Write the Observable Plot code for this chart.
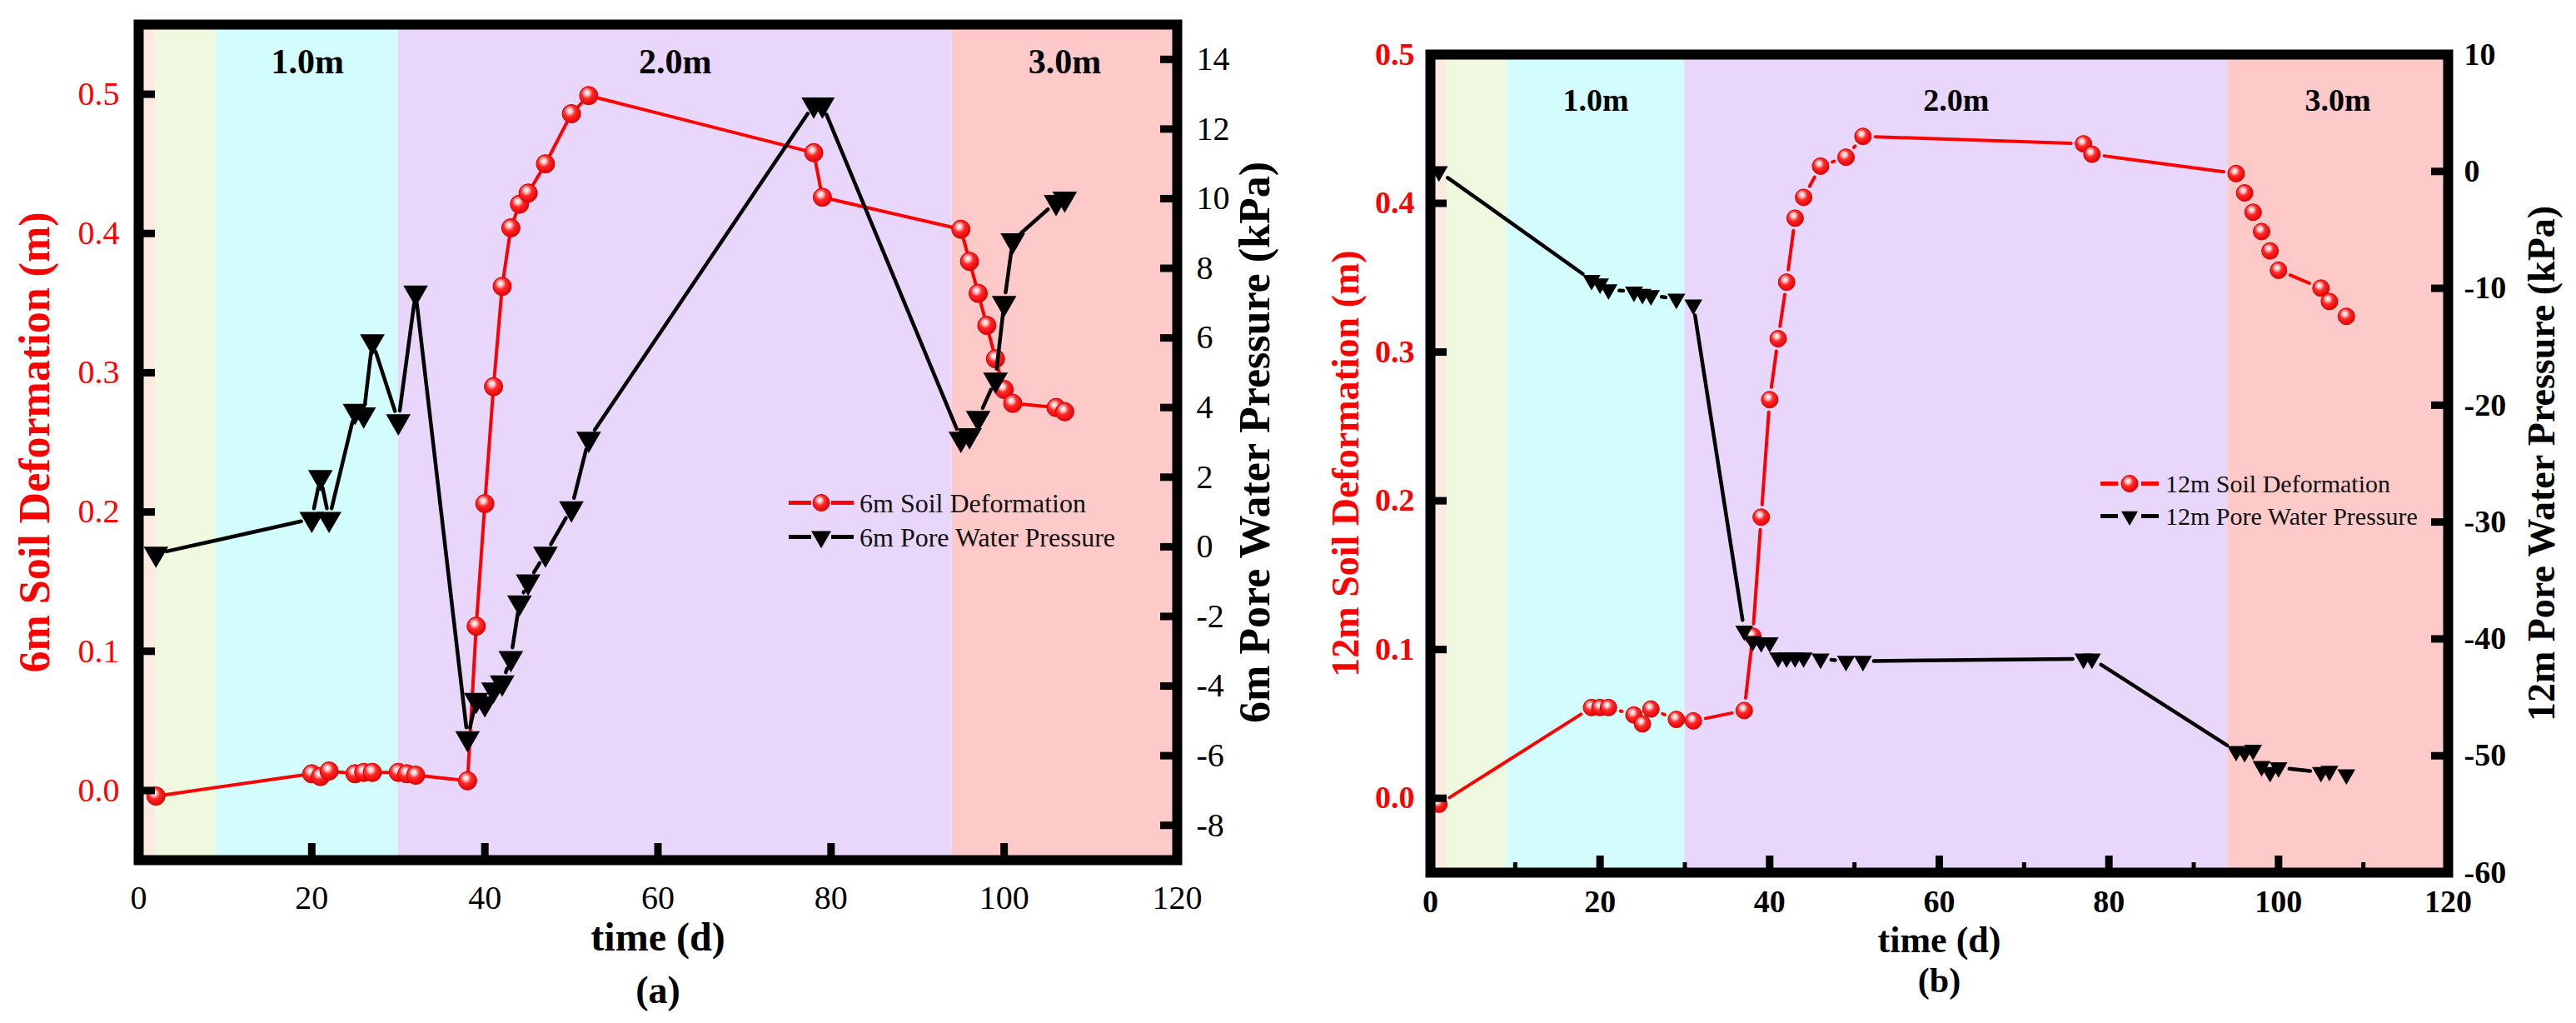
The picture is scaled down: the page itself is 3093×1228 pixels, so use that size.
<!DOCTYPE html>
<html><head><meta charset="utf-8">
<script src="https://cdn.jsdelivr.net/npm/d3@7"></script>
<script src="https://cdn.jsdelivr.net/npm/@observablehq/plot@0.6"></script>
<style>
body{margin:0;background:#fff;}
#wrap{position:relative;width:3093px;height:1228px;overflow:hidden;background:#fff;}
.panel{position:absolute;top:0;}
.layer{position:absolute;left:0;top:0;}
.legend{position:absolute;font-family:"Liberation Serif",serif;color:#111;white-space:nowrap;line-height:1;}
.legend .row{display:flex;align-items:center;}
.legend span{line-height:1;}
.legend svg{display:block;}
</style>
</head><body><div id="wrap"></div>
<script>
// ---------- data ----------
const xTicks = [0, 20, 40, 60, 80, 100, 120];
const xMinorTicks = [10, 30, 50, 70, 90, 110];
const bandStart = [0, 2, 9, 30, 94];
const bandEnd = [2, 9, 30, 94, 120];
const bandLabels = ["", "", "1.0m", "2.0m", "3.0m"];

// (a) 6 m
const def6Days = [2, 20, 21, 22, 25, 26, 27, 30, 31, 32, 38, 39, 40, 41, 42, 43, 44, 45, 47, 50, 52, 78, 79, 95, 96, 97, 98, 99, 100, 101, 106, 107];
const def6Vals = [-0.004, 0.012, 0.010, 0.014, 0.012, 0.013, 0.013, 0.013, 0.012, 0.011, 0.007, 0.118, 0.206, 0.290, 0.362, 0.404, 0.421, 0.429, 0.450, 0.486, 0.499, 0.458, 0.426, 0.403, 0.380, 0.357, 0.334, 0.310, 0.288, 0.278, 0.275, 0.272];
const pore6Days = [2, 20, 21, 22, 25, 26, 27, 30, 32, 38, 39, 40, 41, 42, 43, 44, 45, 47, 50, 52, 78, 79, 95, 96, 97, 99, 100, 101, 106, 107];
const pore6Vals = [-0.2, 0.8, 2.0, 0.8, 3.9, 3.8, 5.9, 3.6, 7.3, -5.5, -4.4, -4.5, -4.1, -3.9, -3.2, -1.6, -1.0, -0.2, 1.1, 3.1, 12.7, 12.7, 3.1, 3.2, 3.7, 4.8, 7.0, 8.8, 9.9, 10.0];
const def6Ticks = [0, 0.1, 0.2, 0.3, 0.4, 0.5];
const pore6Ticks = [-8, -6, -4, -2, 0, 2, 4, 6, 8, 10, 12, 14];

// (b) 12 m
const def12Days = [1, 19, 20, 21, 24, 25, 26, 29, 31, 37, 38, 39, 40, 41, 42, 43, 44, 46, 49, 51, 77, 78, 95, 96, 97, 98, 99, 100, 105, 106, 108];
const def12Vals = [-0.004, 0.061, 0.061, 0.061, 0.056, 0.050, 0.060, 0.053, 0.052, 0.059, 0.109, 0.189, 0.268, 0.309, 0.347, 0.390, 0.404, 0.425, 0.431, 0.445, 0.440, 0.433, 0.420, 0.407, 0.394, 0.381, 0.368, 0.355, 0.343, 0.334, 0.324];
const pore12Days = [1, 19, 20, 21, 24, 25, 26, 29, 31, 37, 38, 39, 40, 41, 42, 43, 44, 46, 49, 51, 77, 78, 95, 96, 97, 98, 99, 100, 105, 106, 108];
const pore12Vals = [0.0, -9.3, -9.6, -10.1, -10.3, -10.5, -10.6, -10.9, -11.4, -39.3, -40.2, -40.3, -40.3, -41.6, -41.6, -41.6, -41.6, -41.7, -41.9, -41.9, -41.7, -41.7, -49.6, -49.7, -49.5, -50.9, -51.4, -51.0, -51.4, -51.3, -51.6];
const def12Ticks = [0, 0.1, 0.2, 0.3, 0.4, 0.5];
const pore12Ticks = [-60, -50, -40, -30, -20, -10, 0, 10];

// ---------- styles ----------
const bandColors = ["#fbeadf", "#eef9df", "#d3fcfc", "#e8d6fb", "#fdc9c9"];
const RED = "#ff0000";
const FONT = "Liberation Serif";

const triDown = {
  draw(ctx, size) {
    const s = Math.sqrt(size * 4 / Math.sqrt(3));
    const h = s * Math.sqrt(3) / 2;
    ctx.moveTo(-s / 2, -h / 3);
    ctx.lineTo(s / 2, -h / 3);
    ctx.lineTo(0, 2 * h / 3);
    ctx.closePath();
  }
};

function ballDefs(id) {
  return () => {
    const defs = d3.create("svg:defs");
    const g = defs.append("radialGradient").attr("id", id)
      .attr("cx", "42%").attr("cy", "38%").attr("r", "62%").attr("fx", "40%").attr("fy", "34%");
    g.append("stop").attr("offset", "0%").attr("stop-color", "#ffffff");
    g.append("stop").attr("offset", "22%").attr("stop-color", "#ffc8c8");
    g.append("stop").attr("offset", "48%").attr("stop-color", "#ff2a2a");
    g.append("stop").attr("offset", "100%").attr("stop-color", "#e80000");
    return defs.node();
  };
}

const zip = (xs, ys) => xs.map((x, i) => ({day: x, v: ys[i]}));
const segments = (pts) => pts.slice(1).map((p, i) => ({x1: pts[i].day, y1: pts[i].v, x2: p.day, y2: p.v}));

function panel(cfg) {
  const {left, width, height, mL, mR, mT, mB} = cfg;
  const plotW = width - mL - mR, plotH = height - mT - mB;
  const bands = bandStart.map((s, i) => ({start: s, end: bandEnd[i], color: bandColors[i], label: bandLabels[i], mid: (s + bandEnd[i]) / 2}));
  const div = document.createElement("div");
  div.className = "panel";
  div.style.left = left + "px";
  div.style.width = width + "px";
  div.style.height = height + "px";

  const common = {
    width, height, marginLeft: mL, marginRight: mR, marginTop: mT, marginBottom: mB,
    x: {domain: [0, 120], axis: null},
    style: {fontFamily: FONT, background: "transparent", overflow: "visible"}
  };
  const tf = {fontFamily: FONT};

  const minorMarks = cfg.minor ? [Plot.ruleX(xMinorTicks, {x: d => d, insetTop: plotH - 12, stroke: "black", strokeWidth: 5})] : [];

  const A = Plot.plot({
    ...common,
    y: {domain: cfg.defDomain, axis: null},
    color: {type: "identity"},
    marks: [
      ballDefs(cfg.ballId),
      Plot.rect(bands, {x1: "start", x2: "end", fill: "color"}),
      Plot.text(bands.filter(d => d.label), {...tf, x: "mid", text: "label", frameAnchor: "top", dy: cfg.bandDy, fontSize: cfg.bandFont, fontWeight: "bold", fill: "black", lineAnchor: "middle"}),
      Plot.arrow(segments(cfg.defData), {x1: "x1", y1: "y1", x2: "x2", y2: "y2", insetStart: cfg.redGap, insetEnd: cfg.redGap, headLength: 0, stroke: RED, strokeWidth: 4}),
      Plot.dot(cfg.defData, {x: "day", y: "v", r: cfg.dotR, fill: `url(#${cfg.ballId})`, stroke: "#d40000", strokeWidth: 1}),
      Plot.ruleY(cfg.defTicks, {y: d => d, insetRight: plotW - 20, stroke: "black", strokeWidth: 9}),
      Plot.ruleX(xTicks, {x: d => d, insetTop: plotH - 20, stroke: "black", strokeWidth: 9}),
      ...minorMarks,
      Plot.axisY({...tf, ticks: cfg.defTicks, anchor: "left", tickSize: 0, tickPadding: cfg.yPad, tickFormat: d3.format(".1f"), fill: RED, fontSize: cfg.tickFont, fontWeight: cfg.tickWeight, label: null}),
      Plot.axisX({...tf, ticks: xTicks, anchor: "bottom", tickSize: 0, tickPadding: cfg.xPad, tickFormat: d => String(d), fill: "black", fontSize: cfg.tickFont, fontWeight: cfg.tickWeight, label: null}),
      Plot.frame({stroke: "black", strokeWidth: 12}),
      Plot.text([cfg.defTitle], {...tf, text: d => d, frameAnchor: "left", dx: cfg.leftTitleDx, rotate: -90, textAnchor: "middle", lineAnchor: "middle", fill: RED, fontSize: cfg.titleFont, fontWeight: "bold"}),
      Plot.text(["time (d)"], {...tf, text: d => d, frameAnchor: "bottom", dy: cfg.xTitleDy, textAnchor: "middle", lineAnchor: "middle", fill: "black", fontSize: cfg.xTitleFont, fontWeight: "bold"}),
      Plot.text([cfg.caption], {...tf, text: d => d, frameAnchor: "bottom", dy: cfg.captionDy, textAnchor: "middle", lineAnchor: "middle", fill: "black", fontSize: cfg.captionFont, fontWeight: "bold"})
    ]
  });
  A.classList.add("layer");

  const B = Plot.plot({
    ...common,
    y: {domain: cfg.poreDomain, axis: null},
    marks: [
      Plot.arrow(segments(cfg.poreData), {x1: "x1", y1: "y1", x2: "x2", y2: "y2", insetStart: cfg.blackGap, insetEnd: cfg.blackGap, headLength: 0, stroke: "black", strokeWidth: 4.5}),
      Plot.dot(cfg.poreData, {x: "day", y: "v", r: cfg.triR, symbol: triDown, fill: "black", stroke: "none"}),
      Plot.ruleY(cfg.poreTicks, {y: d => d, insetLeft: plotW - 20, stroke: "black", strokeWidth: 9}),
      Plot.axisY({...tf, ticks: cfg.poreTicks, anchor: "right", tickSize: 0, tickPadding: cfg.yPad, tickFormat: d => String(d), fill: "black", fontSize: cfg.tickFont, fontWeight: cfg.tickWeight, label: null}),
      Plot.text([cfg.poreTitle], {...tf, text: d => d, frameAnchor: "right", dx: cfg.rightTitleDx, rotate: -90, textAnchor: "middle", lineAnchor: "middle", fill: "black", fontSize: cfg.titleFont, fontWeight: "bold"})
    ]
  });
  B.classList.add("layer");

  div.appendChild(A);
  div.appendChild(B);

  // legend
  const lg = document.createElement("div");
  lg.className = "legend";
  lg.style.left = (cfg.legendX - left) + "px";
  lg.style.top = cfg.legendY + "px";
  lg.style.fontSize = cfg.legendFont + "px";
  const sw = cfg.legendSymW, rowH = cfg.legendRowH;
  const mk = (kind, label) => {
    const row = document.createElement("div");
    row.className = "row";
    row.style.height = rowH + "px";
    const mid = sw / 2, cy = rowH / 2, gap = cfg.legendLineGap;
    const color = kind === "def" ? RED : "black";
    const lines = `<line x1="0" y1="${cy}" x2="${mid - gap}" y2="${cy}" stroke="${color}" stroke-width="5"/><line x1="${mid + gap}" y1="${cy}" x2="${sw}" y2="${cy}" stroke="${color}" stroke-width="5"/>`;
    let sym;
    if (kind === "def") {
      sym = `${lines}<circle cx="${mid}" cy="${cy}" r="${cfg.legendDotR}" fill="url(#${cfg.ballId})" stroke="#d40000" stroke-width="1"/>`;
    } else {
      const s = cfg.legendTri, h = s * Math.sqrt(3) / 2;
      sym = `${lines}<path d="M${mid - s / 2},${cy - h / 3}L${mid + s / 2},${cy - h / 3}L${mid},${cy + 2 * h / 3}Z" fill="black"/>`;
    }
    row.innerHTML = `<svg width="${sw}" height="${rowH}">${sym}</svg><span style="margin-left:${cfg.legendGap}px">${label}</span>`;
    return row;
  };
  lg.appendChild(mk("def", cfg.defLegend));
  lg.appendChild(mk("pore", cfg.poreLegend));
  div.appendChild(lg);
  return div;
}

const wrap = document.getElementById("wrap");

wrap.appendChild(panel({
  left: 0, width: 1560, height: 1228, mL: 166, mR: 147, mT: 29, mB: 196,
  defDomain: [-0.05, 0.55], poreDomain: [-9, 15],
  defTicks: def6Ticks, poreTicks: pore6Ticks,
  defData: zip(def6Days, def6Vals), poreData: zip(pore6Days, pore6Vals),
  defTitle: "6m Soil Deformation (m)", poreTitle: "6m Pore Water Pressure (kPa)",
  caption: "(a)", ballId: "ball6",
  dotR: 11, triR: 11, minor: false, redGap: 12, blackGap: 13,
  tickFont: 40, tickWeight: "normal", titleFont: 52, xTitleFont: 48, captionFont: 46, bandFont: 42, bandDy: 45,
  yPad: 23, xPad: 30, leftTitleDx: -124, rightTitleDx: 94, xTitleDy: 93, captionDy: 157,
  legendX: 947, legendY: 583, legendFont: 32, legendSymW: 78, legendRowH: 41, legendGap: 7,
  legendDotR: 10, legendTri: 24, legendLineGap: 12,
  defLegend: "6m Soil Deformation", poreLegend: "6m Pore Water Pressure"
}));

wrap.appendChild(panel({
  left: 1560, width: 1533, height: 1228, mL: 157, mR: 154, mT: 65, mB: 181,
  defDomain: [-0.05, 0.5], poreDomain: [-60, 10],
  defTicks: def12Ticks, poreTicks: pore12Ticks,
  defData: zip(def12Days, def12Vals), poreData: zip(pore12Days, pore12Vals),
  defTitle: "12m Soil Deformation (m)", poreTitle: "12m Pore Water Pressure (kPa)",
  caption: "(b)", ballId: "ball12",
  dotR: 10, triR: 8, minor: true, redGap: 15, blackGap: 13,
  tickFont: 38, tickWeight: "bold", titleFont: 46, xTitleFont: 44, captionFont: 42, bandFont: 38, bandDy: 55,
  yPad: 19, xPad: 21, leftTitleDx: -101, rightTitleDx: 113, xTitleDy: 81, captionDy: 130,
  legendX: 2522, legendY: 561, legendFont: 30, legendSymW: 70, legendRowH: 39, legendGap: 8,
  legendDotR: 10, legendTri: 20, legendLineGap: 14,
  defLegend: "12m Soil Deformation", poreLegend: "12m Pore Water Pressure"
}));
</script>
</body></html>
